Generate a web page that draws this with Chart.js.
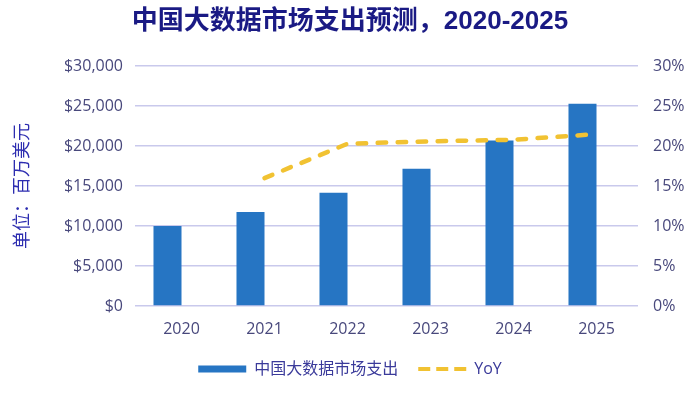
<!DOCTYPE html>
<html>
<head>
<meta charset="utf-8">
<script src="https://cdn.jsdelivr.net/npm/chart.js@4"></script>
<style>
  body { margin: 0; background: #fff; }
  #wrap { width: 700px; height: 395px; }
</style>
</head>
<body>
<div id="wrap"><canvas id="chart"></canvas></div>
<script>
const years = ['2020', '2021', '2022', '2023', '2024', '2025'];
const spending = [10000, 11750, 14170, 17170, 20710, 25290];   // 百万美元
const yoy = [null, 16.0, 20.3, 20.6, 20.8, 21.5];               // %
const leftTicks = [0, 5000, 10000, 15000, 20000, 25000, 30000];
const rightTicks = [0, 5, 10, 15, 20, 25, 30];

const barColor = '#2675c3';
const lineColor = '#f1c232';
const tickColor = '#48487c';
const gridColor = '#c9c9ec';
const latin = "'Open Sans', 'Noto Sans CJK SC', sans-serif";

const ctx = document.getElementById('chart').getContext('2d');

new Chart(ctx, {
  data: {
    labels: years,
    datasets: [
      {
        type: 'bar',
        label: '中国大数据市场支出',
        data: spending,
        backgroundColor: barColor,
        yAxisID: 'y',
        categoryPercentage: 0.675,
        barPercentage: 1,
        order: 1,
      },
      {
        // empty slot next to each bar, like the hidden second series in the original
        type: 'bar',
        label: '',
        data: years.map(() => null),
        yAxisID: 'y',
        categoryPercentage: 0.675,
        barPercentage: 1,
        order: 2,
      },
      {
        type: 'line',
        label: 'YoY',
        data: yoy,
        yAxisID: 'y1',
        borderColor: lineColor,
        borderWidth: 4.5,
        borderDash: [8.5, 11.5],
        borderCapStyle: 'round',
        pointRadius: 0,
        fill: false,
        order: 0,
      },
    ],
  },
  options: {
    responsive: true,
    maintainAspectRatio: false,
    animation: false,
    layout: { padding: { left: 0, right: 0, top: 0, bottom: 8 } },
    plugins: {
      tooltip: { enabled: false },
      title: {
        display: true,
        text: '中国大数据市场支出预测，2020-2025',
        color: '#1a1a84',
        font: { family: "'Liberation Sans', 'Noto Sans CJK SC', sans-serif", size: 26, weight: 'bold' },
        padding: { top: 6, bottom: 29 },
      },
      legend: {
        position: 'bottom',
        labels: {
          usePointStyle: true,
          pointStyleWidth: 48,
          boxHeight: 7,
          padding: 20,
          color: '#3a3a9a',
          font: { family: latin, size: 16 },
          generateLabels: () => [
            { text: '中国大数据市场支出', fillStyle: barColor, strokeStyle: barColor, lineWidth: 0,
              pointStyle: 'rect', datasetIndex: 0, fontColor: '#3a3a9a' },
            { text: 'YoY', fillStyle: lineColor, strokeStyle: lineColor, lineWidth: 4,
              lineDash: [12, 6], pointStyle: 'line', datasetIndex: 2, fontColor: '#3a3a9a' },
          ],
        },
      },
    },
    scales: {
      x: {
        grid: { display: false },
        border: { display: false },
        ticks: { color: tickColor, font: { family: latin, size: 16 }, padding: 6 },
        afterFit: s => { s.height = 35; },
      },
      y: {
        position: 'left',
        min: 0,
        max: 30000,
        afterBuildTicks: s => { s.ticks = leftTicks.map(v => ({ value: v })); },
        grid: { color: gridColor, lineWidth: 1.5, tickLength: 5 },
        border: { display: false },
        ticks: {
          color: tickColor,
          font: { family: latin, size: 16 },
          padding: 12,
          callback: v => '$' + v.toLocaleString('en-US'),
        },
        title: {
          display: true,
          text: '单位：百万美元',
          color: '#2d2db0',
          font: { family: "'Noto Sans CJK SC', sans-serif", size: 18 },
          padding: { top: 10, bottom: 0 },
        },
        afterFit: s => { s.width = 140; },
      },
      y1: {
        position: 'right',
        min: 0,
        max: 30,
        afterBuildTicks: s => { s.ticks = rightTicks.map(v => ({ value: v })); },
        grid: { drawOnChartArea: false, drawTicks: false },
        border: { display: false },
        ticks: {
          color: tickColor,
          font: { family: latin, size: 16 },
          padding: 15,
          callback: v => v + '%',
        },
        afterFit: s => { s.width = 62; },
      },
    },
  },
});
</script>
</body>
</html>
